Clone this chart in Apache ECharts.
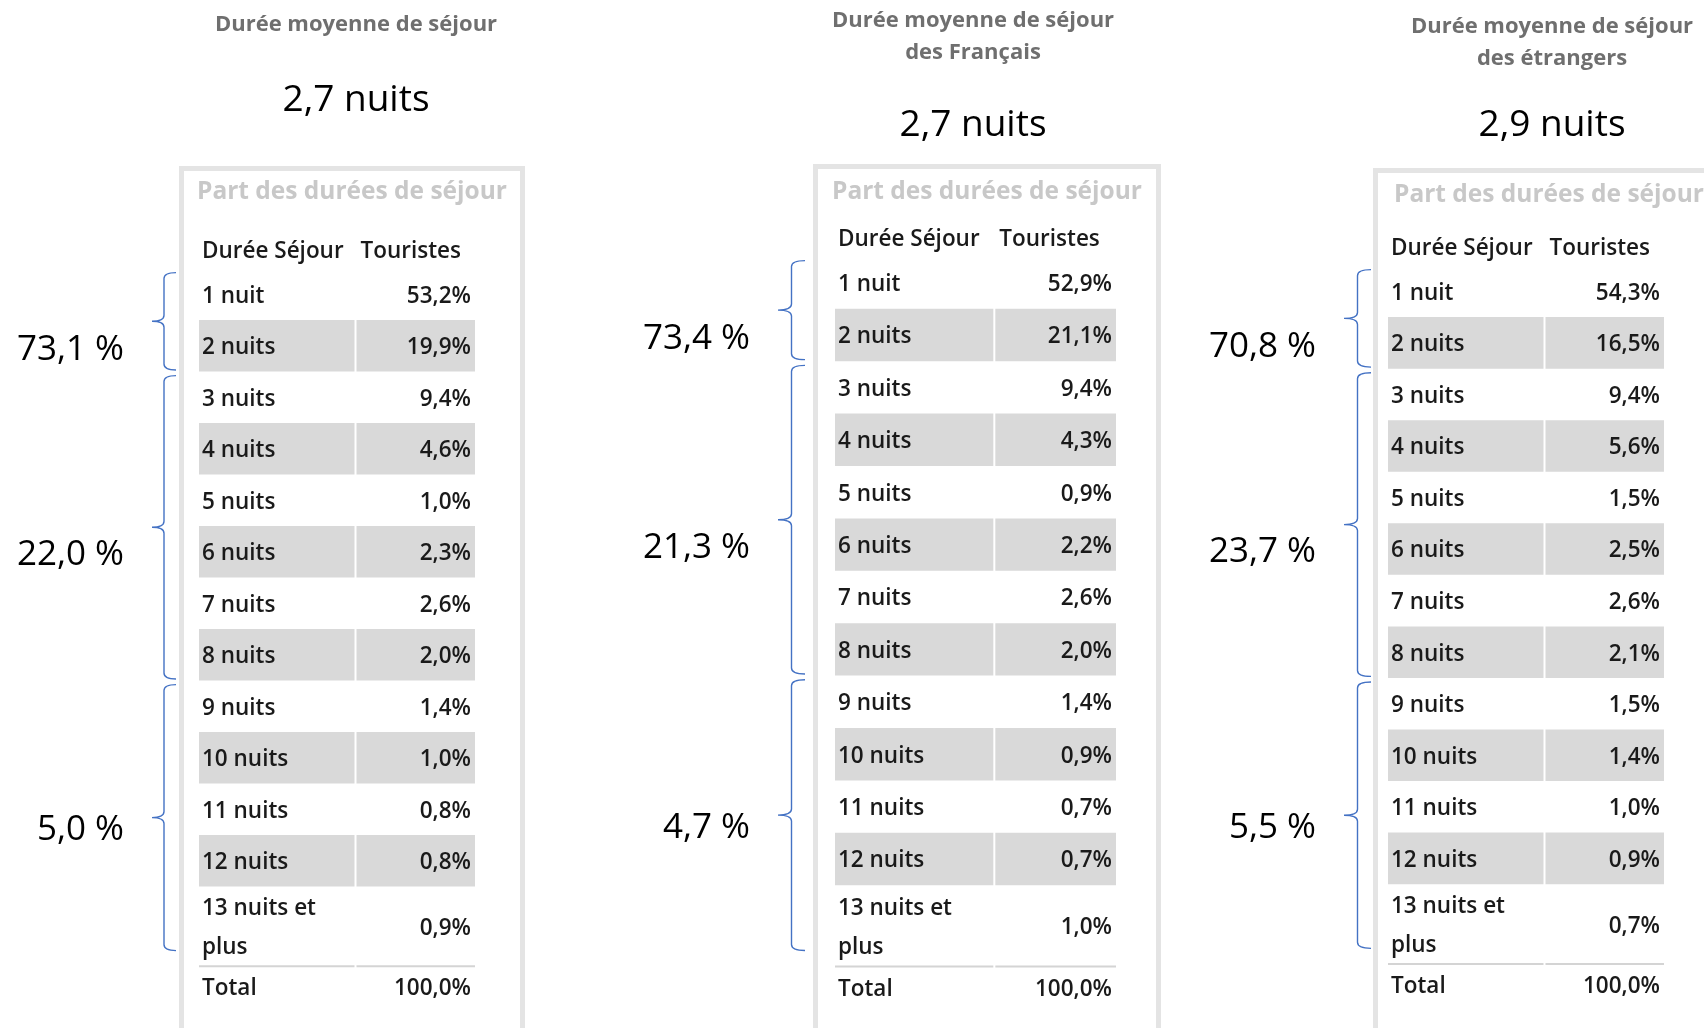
<!DOCTYPE html>
<html>
<head>
<meta charset="utf-8">
<script src="https://cdn.jsdelivr.net/npm/echarts@6/dist/echarts.min.js"></script>
<style>
  html, body { margin: 0; padding: 0; background: #fff; }
  #chart-container { width: 1704px; height: 1028px; }
</style>
</head>
<body>
<div id="chart-container"></div>
<script>
// ---- data ----
var durations = ['1 nuit', '2 nuits', '3 nuits', '4 nuits', '5 nuits', '6 nuits', '7 nuits',
  '8 nuits', '9 nuits', '10 nuits', '11 nuits', '12 nuits', '13 nuits et\nplus'];
var shareAll = [53.2, 19.9, 9.4, 4.6, 1.0, 2.3, 2.6, 2.0, 1.4, 1.0, 0.8, 0.8, 0.9];
var shareFr = [52.9, 21.1, 9.4, 4.3, 0.9, 2.2, 2.6, 2.0, 1.4, 0.9, 0.7, 0.7, 1.0];
var shareEtr = [54.3, 16.5, 9.4, 5.6, 1.5, 2.5, 2.6, 2.1, 1.5, 1.4, 1.0, 0.9, 0.7];
var groupAll = [73.1, 22.0, 5.0];
var groupFr = [73.4, 21.3, 4.7];
var groupEtr = [70.8, 23.7, 5.5];
var groupRows = [[0, 1], [2, 7], [8, 12]];
var avgStay = ['2,7', '2,7', '2,9'];
var panelTitles = ['Durée moyenne de séjour', 'Durée moyenne de séjour\ndes Français', 'Durée moyenne de séjour\ndes étrangers'];
var colHeaders = ['Durée Séjour', 'Touristes'];
var tableTitle = 'Part des durées de séjour';
var totalLabel = 'Total';
var totalValue = 100.0;

var shareSets = [shareAll, shareFr, shareEtr];
var groupSets = [groupAll, groupFr, groupEtr];

// ---- layout ----
var layouts = [
  { top: 217, pitch: 51.5, left: 199, right: 475, braceLeft: 152, braceW: 24, box: [179, 166, 525], cap: [197, 192], titleX: 356, titleY: 25, avgY: 100 },
  { top: 204, pitch: 52.4, left: 835, right: 1116, braceLeft: 778, braceW: 27, box: [813, 164, 1161], cap: [832, 192], titleX: 973, titleY: 37, avgY: 125 },
  { top: 214, pitch: 51.55, left: 1388, right: 1664, braceLeft: 1344, braceW: 27, box: [1373, 168, 1730], cap: [1394, 195], titleX: 1552, titleY: 43, avgY: 125 }
];
var SPLIT = 0.567;
var Y_MAX = 15.4;
var LAST_END = 14.55;
var TOTAL_END = 15.35;
var HEADER_Y = 0.64;
var TEXT_DY = 2;
var labelOffsets = [0.52, 0.5, 0.21];
var FONT = '"Open Sans", "Noto Sans", sans-serif';
var TXT = '#1a1a1a';
var BAND = '#d9d9d9';
var BLUE = '#4472c4';

function pct(v) { return v.toFixed(1).replace('.', ',') + '%'; }
function pctSp(v) { return v.toFixed(1).replace('.', ',') + ' %'; }
function rowCenter(i) { return i < durations.length - 1 ? i + 1.5 : (durations.length + LAST_END) / 2; }

var dom = document.getElementById('chart-container');
var myChart = echarts.init(dom, null, { renderer: 'canvas' });

var grids = [], xAxes = [], yAxes = [], series = [], graphics = [];

layouts.forEach(function (L, p) {
  var h = Y_MAX * L.pitch;
  grids.push({ left: L.left, top: L.top, width: L.right - L.left, height: h });
  grids.push({ left: L.braceLeft, top: L.top, width: L.braceW, height: h });
  [0, 1].forEach(function (k) {
    xAxes.push({ gridIndex: 2 * p + k, type: 'value', min: 0, max: 1, show: false });
    yAxes.push({ gridIndex: 2 * p + k, type: 'value', min: 0, max: Y_MAX, inverse: true, show: false });
  });

  var shares = shareSets[p];
  var groups = groupSets[p];

  // table rows: [start, end, kind] kind 0 header, 1 row, 2 total
  var rows = [[0, 1, 0]];
  durations.forEach(function (d, i) {
    rows.push([i + 1, i < durations.length - 1 ? i + 2 : LAST_END, 1]);
  });
  rows.push([LAST_END, TOTAL_END, 2]);

  series.push({
    type: 'custom',
    xAxisIndex: 2 * p,
    yAxisIndex: 2 * p,
    encode: { y: [0, 1] },
    silent: true,
    data: rows,
    renderItem: function (params, api) {
      var y0 = api.value(0), y1 = api.value(1), kind = api.value(2);
      var tl = api.coord([0, y0]), br = api.coord([1, y1]);
      var sx = api.coord([SPLIT, y0])[0];
      var my = (tl[1] + br[1]) / 2 + TEXT_DY;
      var ch = [];
      function txt(x, y, s, align) {
        ch.push({ type: 'text', x: x, y: y, style: { text: s, fill: TXT, fontSize: 22.5, fontWeight: 600, fontFamily: FONT, align: align, verticalAlign: 'middle', lineHeight: 39 } });
      }
      if (kind === 0) {
        var hy = api.coord([0, HEADER_Y])[1] + TEXT_DY;
        txt(tl[0] + 3, hy, colHeaders[0], 'left');
        txt(sx + 5, hy, colHeaders[1], 'left');
      } else if (kind === 1) {
        var i = params.dataIndex - 1;
        if (i % 2 === 1) {
          ch.push({ type: 'rect', shape: { x: tl[0], y: tl[1], width: sx - 1 - tl[0], height: br[1] - tl[1] }, style: { fill: BAND } });
          ch.push({ type: 'rect', shape: { x: sx + 1, y: tl[1], width: br[0] - sx - 1, height: br[1] - tl[1] }, style: { fill: BAND } });
        }
        txt(tl[0] + 3, my, durations[i], 'left');
        txt(br[0] - 4, my, pct(shares[i]), 'right');
      } else {
        ch.push({ type: 'line', shape: { x1: tl[0], y1: tl[1], x2: sx - 1, y2: tl[1] }, style: { stroke: '#d4d4d4', lineWidth: 2 } });
        ch.push({ type: 'line', shape: { x1: sx + 1, y1: tl[1], x2: br[0], y2: tl[1] }, style: { stroke: '#d4d4d4', lineWidth: 2 } });
        txt(tl[0] + 3, my, totalLabel, 'left');
        txt(br[0] - 4, my, pct(totalValue), 'right');
      }
      return { type: 'group', children: ch };
    }
  });

  // braces: [start, end, labelY]
  var braces = groupRows.map(function (g, k) {
    var s = rowCenter(g[0]) - 0.42, e = rowCenter(g[1]) + 0.47;
    return [s, e, (s + e) / 2 + labelOffsets[k]];
  });
  series.push({
    type: 'custom',
    xAxisIndex: 2 * p + 1,
    yAxisIndex: 2 * p + 1,
    encode: { y: [0, 1] },
    silent: true,
    data: braces,
    renderItem: function (params, api) {
      var s = api.value(0), e = api.value(1), m = (s + e) / 2;
      var top = api.coord([1, s]), bot = api.coord([1, e]);
      var xv = api.coord([0.5, s])[0];
      var mid = api.coord([0, m]);
      var xr = top[0], y0 = top[1], y1 = bot[1], xl = mid[0], ym = mid[1], r = 6;
      var d = 'M' + xr + ' ' + y0 + ' Q' + xv + ' ' + y0 + ' ' + xv + ' ' + (y0 + r) +
        ' L' + xv + ' ' + (ym - r) + ' Q' + xv + ' ' + ym + ' ' + xl + ' ' + ym +
        ' Q' + xv + ' ' + ym + ' ' + xv + ' ' + (ym + r) +
        ' L' + xv + ' ' + (y1 - r) + ' Q' + xv + ' ' + y1 + ' ' + xr + ' ' + y1;
      var ly = api.coord([0, api.value(2)])[1] + TEXT_DY;
      return {
        type: 'group',
        children: [
          { type: 'path', shape: { pathData: d }, style: { stroke: BLUE, lineWidth: 1.4, fill: null } },
          { type: 'text', x: xl - 28, y: ly, style: { text: pctSp(groups[params.dataIndex]), fill: '#000', fontSize: 35, fontFamily: FONT, align: 'right', verticalAlign: 'middle' } }
        ]
      };
    }
  });

  // box, titles
  graphics.push({ type: 'rect', silent: true, shape: { x: L.box[0] + 2.5, y: L.box[1] + 2.5, width: L.box[2] - L.box[0] - 5, height: 1028 - L.box[1] + 20 }, style: { fill: null, stroke: '#e4e4e4', lineWidth: 5 } });
  graphics.push({ type: 'text', silent: true, x: L.titleX, y: L.titleY, style: { text: panelTitles[p], fill: '#6f6f6f', fontSize: 22, fontWeight: 'bold', fontFamily: FONT, align: 'center', verticalAlign: 'middle', lineHeight: 32 } });
  graphics.push({ type: 'text', silent: true, x: L.titleX, y: L.avgY, style: { text: avgStay[p] + ' nuits', fill: '#000', fontSize: 37, fontFamily: FONT, align: 'center', verticalAlign: 'middle' } });
  graphics.push({ type: 'text', silent: true, x: L.cap[0], y: L.cap[1], style: { text: tableTitle, fill: '#c8c8c8', fontSize: 24.5, fontWeight: 'bold', fontFamily: FONT, align: 'left', verticalAlign: 'middle' } });
});

var option = {
  animation: false,
  grid: grids,
  xAxis: xAxes,
  yAxis: yAxes,
  series: series,
  graphic: { elements: graphics }
};

myChart.setOption(option);
window.addEventListener('resize', myChart.resize);
</script>
</body>
</html>
